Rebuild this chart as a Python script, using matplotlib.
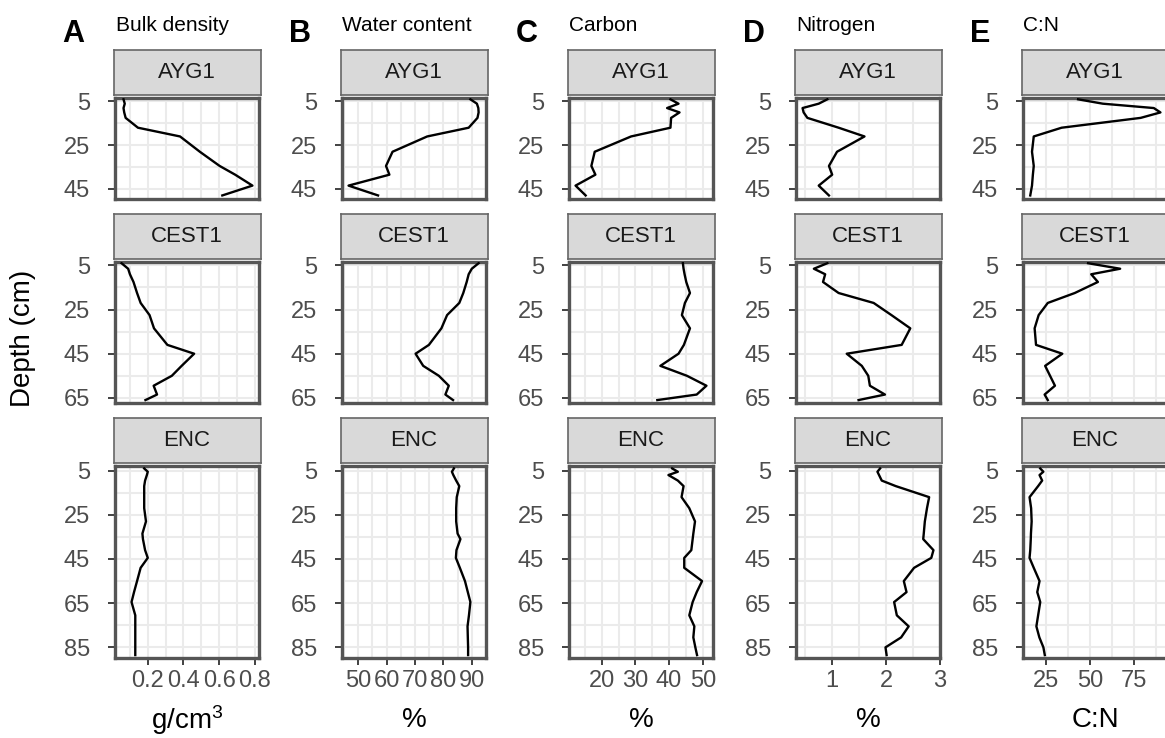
import matplotlib
matplotlib.use("Agg")
import matplotlib.pyplot as plt
import numpy as np

plt.rcParams['font.family'] = ['Liberation Sans', 'DejaVu Sans']
plt.rcParams['mathtext.fontset'] = 'custom'
plt.rcParams['mathtext.rm'] = 'Liberation Sans'
plt.rcParams['mathtext.it'] = 'Liberation Sans'

# ---------------- data ----------------
sites = ["AYG1", "CEST1", "ENC"]

depth_AYG1 = [4, 6, 8, 10, 12.5, 17, 21, 28, 34.5, 38.5, 43.5, 48]
depth_CEST1 = [4, 6.5, 9, 12.5, 17.5, 22, 27.5, 33.5, 41, 45, 50.5, 55, 59.5, 63.5, 66]
depth_ENC = [4, 5.5, 7, 9.5, 12, 17, 22, 28, 33.5, 36, 41, 44.5, 49, 55, 60, 64.5,
             70.5, 75.5, 80.5, 85, 88.5]

bd_AYG1 = [0.064, 0.071, 0.064, 0.068, 0.076, 0.145, 0.381, 0.492, 0.603, 0.69, 0.787, 0.618]
bd_CEST1 = [0.053, 0.09, 0.10, 0.12, 0.14, 0.16, 0.21, 0.235, 0.31, 0.46, 0.39, 0.335,
            0.233, 0.252, 0.187]
bd_ENC = [0.18, 0.20, 0.195, 0.185, 0.18, 0.18, 0.18, 0.19, 0.17, 0.173, 0.185, 0.20,
          0.16, 0.14, 0.123, 0.109, 0.13, 0.13, 0.13, 0.13, 0.13]

wc_AYG1 = [89.5, 91.8, 92.3, 92.4, 92.0, 88.9, 74.3, 62.1, 59.8, 61.0, 46.6, 57.0]
wc_CEST1 = [92.4, 90.0, 88.9, 88.2, 87.0, 85.6, 81.3, 79.3, 74.9, 70.2, 72.9, 78.4,
            81.9, 80.7, 83.4]
wc_ENC = [83.7, 83.0, 83.5, 84.5, 85.6, 84.7, 84.5, 84.5, 85.0, 86.0, 84.6, 84.4,
          85.8, 87.6, 88.6, 89.5, 89.0, 88.5, 88.6, 88.7, 88.7]

c_AYG1 = [40.4, 42.8, 39.4, 43.1, 40.6, 40.4, 28.7, 17.9, 16.9, 18.1, 12.2, 15.2]
c_CEST1 = [44.1, 44.3, 44.6, 45.1, 46.2, 44.7, 43.8, 46.2, 44.4, 42.8, 37.4, 45.3,
           51.1, 48.2, 36.5]
c_ENC = [40.9, 42.6, 39.8, 42.6, 44.3, 43.7, 46.0, 47.7, 47.2, 47.0, 46.6, 44.5,
         44.5, 49.8, 48.2, 47.0, 46.0, 47.5, 47.2, 47.8, 48.3]

n_AYG1 = [0.91, 0.75, 0.45, 0.47, 0.54, 1.12, 1.60, 1.09, 0.94, 1.00, 0.75, 0.94]
n_CEST1 = [0.91, 0.66, 0.87, 0.83, 1.12, 1.77, 2.10, 2.45, 2.29, 1.27, 1.55, 1.67,
           1.70, 1.98, 1.49]
n_ENC = [1.89, 1.84, 1.87, 1.92, 2.18, 2.80, 2.76, 2.72, 2.70, 2.69, 2.88, 2.84,
         2.52, 2.33, 2.38, 2.15, 2.20, 2.42, 2.28, 1.99, 2.01]

cn_AYG1 = [43.3, 57.4, 86.5, 90.3, 79.0, 33.9, 18.0, 17.0, 18.0, 17.5, 17.0, 16.0]
cn_CEST1 = [49.0, 67.3, 50.8, 54.6, 41.4, 26.0, 20.8, 18.5, 19.3, 34.3, 24.5, 27.3,
            30.1, 24.2, 26.0]
cn_ENC = [21.7, 23.5, 21.3, 22.8, 20.5, 15.6, 16.5, 16.8, 16.4, 16.3, 16.0, 15.6,
          18.0, 21.3, 20.0, 21.7, 20.5, 19.5, 21.2, 23.5, 24.3]

depths = {"AYG1": depth_AYG1, "CEST1": depth_CEST1, "ENC": depth_ENC}

titles = ["Bulk density", "Water content", "Carbon", "Nitrogen", "C:N"]
letters = ["A", "B", "C", "D", "E"]
xlabels = ["g/cm$^{3}$", "%", "%", "%", "C:N"]
xticks = [[0.2, 0.4, 0.6, 0.8], [50, 60, 70, 80, 90], [20, 30, 40, 50], [1, 2, 3], [25, 50, 75]]
xticklabels = [["0.2", "0.4", "0.6", "0.8"], ["50", "60", "70", "80", "90"],
               ["20", "30", "40", "50"], ["1", "2", "3"], ["25", "50", "75"]]
xminor = [[0.1, 0.3, 0.5, 0.7], [45, 55, 65, 75, 85, 95], [15, 25, 35, 45],
          [0.5, 1.5, 2.5], [12.5, 37.5, 62.5, 87.5]]
series = [
    {"AYG1": bd_AYG1, "CEST1": bd_CEST1, "ENC": bd_ENC},
    {"AYG1": wc_AYG1, "CEST1": wc_CEST1, "ENC": wc_ENC},
    {"AYG1": c_AYG1, "CEST1": c_CEST1, "ENC": c_ENC},
    {"AYG1": n_AYG1, "CEST1": n_CEST1, "ENC": n_ENC},
    {"AYG1": cn_AYG1, "CEST1": cn_CEST1, "ENC": cn_ENC},
]
yticks = {"AYG1": [5, 25, 45], "CEST1": [5, 25, 45, 65], "ENC": [5, 25, 45, 65, 85]}
yminor = {"AYG1": [15, 35], "CEST1": [15, 35, 55], "ENC": [15, 35, 55, 75]}

# ---------------- layout (pixels) ----------------
W, H = 1165, 738
fig = plt.figure(figsize=(W / 100, H / 100), dpi=100)


def ax_px(x0, y0, x1, y1):
    return fig.add_axes([x0 / W, 1 - y1 / H, (x1 - x0) / W, (y1 - y0) / H])


col_x0 = [115, 342, 569, 796, 1023]
pw = 144
# strip top, strip bottom, panel top, panel bottom
rows_px = {"AYG1": (50, 94.5, 98, 198.5),
           "CEST1": (214, 258.5, 262, 402.5),
           "ENC": (418, 462.5, 466, 657.5)}
ylims = {"AYG1": (49.4, 3.4), "CEST1": (67.1, 3.45), "ENC": (89.6, 2.9)}

for ci in range(5):
    x0 = col_x0[ci]
    x1 = x0 + pw
    allv = np.concatenate([np.asarray(series[ci][s], float) for s in sites])
    lo, hi = allv.min(), allv.max()
    pad = 0.05 * (hi - lo)
    for ri, site in enumerate(sites):
        sy0, sy1, py0, py1 = rows_px[site]
        sax = ax_px(x0 - 1.5, sy0, x1 + 1.5, sy1)
        sax.set_facecolor('#D9D9D9')
        sax.set_xticks([])
        sax.set_yticks([])
        for sp in sax.spines.values():
            sp.set_color('#666666')
            sp.set_linewidth(1.2)
        sax.text(0.5, 0.5, site, ha='center', va='center', fontsize=16,
                 color='#1A1A1A', transform=sax.transAxes)

        ax = ax_px(x0, py0, x1, py1)
        ax.plot(series[ci][site], depths[site], color='black', lw=1.7, zorder=3)
        ax.set_xlim(lo - pad, hi + pad)
        ax.set_ylim(*ylims[site])
        ax.set_xticks(xticks[ci])
        ax.set_xticklabels(xticklabels[ci])
        ax.set_xticks(xminor[ci], minor=True)
        ax.set_yticks(yticks[site])
        ax.set_yticks(yminor[site], minor=True)
        ax.grid(True, which='both', color='#EBEBEB', lw=1.5)
        ax.set_axisbelow(True)
        for sp in ax.spines.values():
            sp.set_color('#555555')
            sp.set_linewidth(2.4)
        ax.tick_params(which='minor', length=0)
        ax.tick_params(which='major', length=5, width=1.3, color='#333333',
                       labelsize=17, labelcolor='#4D4D4D')
        ax.tick_params(axis='y', pad=13)
        ax.tick_params(axis='x', pad=4)
        if ri < 2:
            ax.tick_params(axis='x', which='major', length=0, labelbottom=False)

    # panel letter and title
    fig.text((x0 - 53) / W, 1 - 41.5 / H, letters[ci], fontsize=22,
             fontweight='bold', va='baseline', ha='left')
    fig.text((x0 + 0.5) / W, 1 - 31 / H, titles[ci], fontsize=15,
             va='baseline', ha='left')
    fig.text((x0 + pw / 2) / W, 1 - 720 / H, xlabels[ci], fontsize=20,
             ha='center', va='center')

fig.text(23 / W, 1 - 338 / H, 'Depth (cm)', rotation=90, fontsize=20,
         ha='center', va='center')

fig.savefig('out.png', dpi=100)
